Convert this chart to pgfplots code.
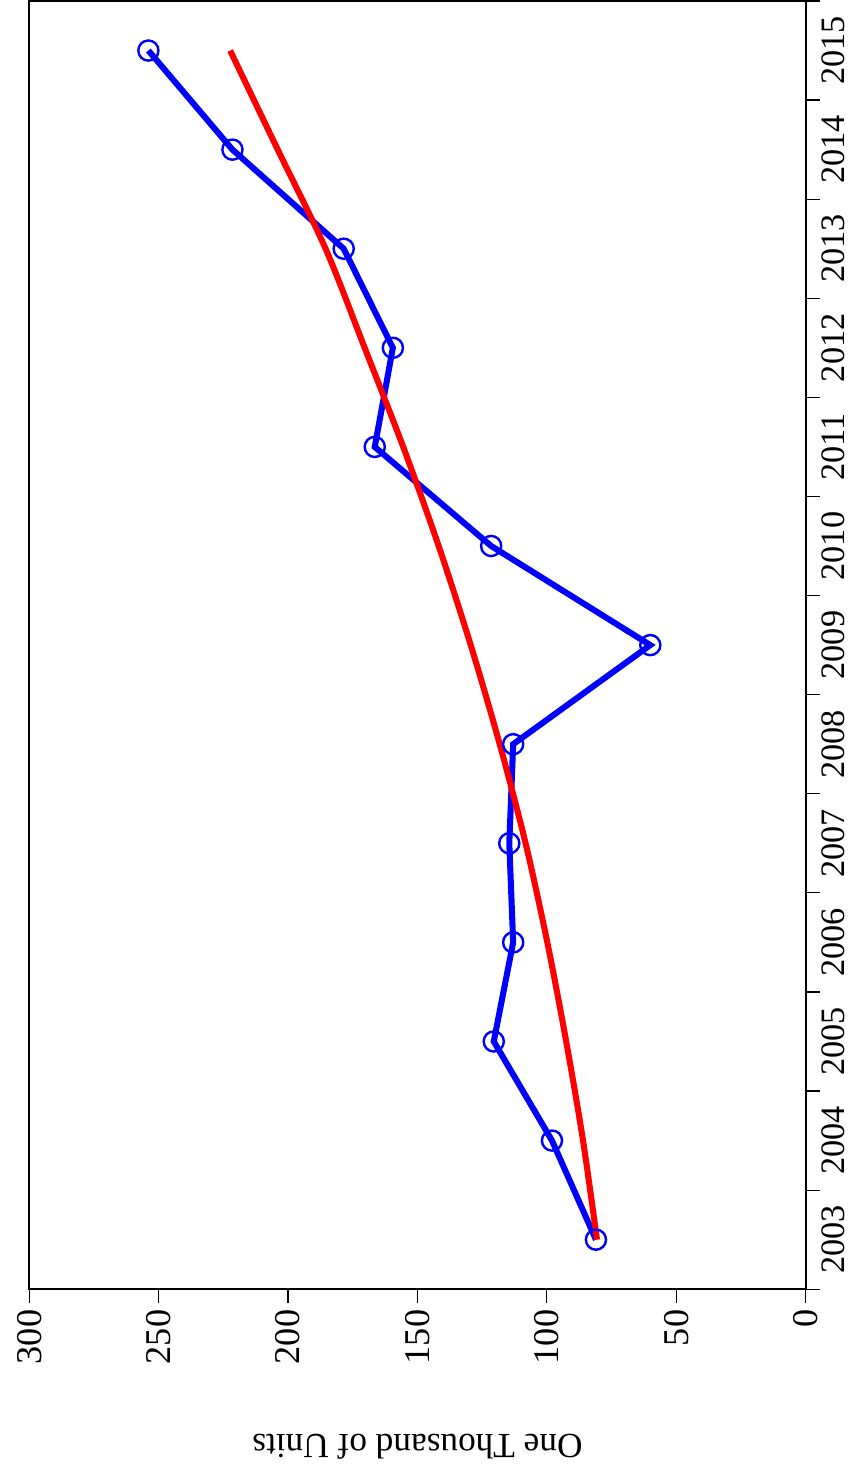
\documentclass[border=0pt]{standalone}
\usepackage{fontspec}
\setmainfont{Liberation Serif}
\usepackage{pgfplots}
\pgfplotsset{compat=1.18}
\begin{document}
\begin{tikzpicture}
\begin{axis}[
  scale only axis, width=385pt, height=639pt,
  x dir=reverse, xmin=0, xmax=300, ymin=2002.5, ymax=2015.5,
  axis line style={line width=1pt},
  xtick={0,50,100,150,200,250,300},
  xticklabels={0,50,100,150,200,250,300},
  xtick pos=bottom,
  ytick={2003,2004,2005,2006,2007,2008,2009,2010,2011,2012,2013,2014,2015},
  yticklabels={2003,2004,2005,2006,2007,2008,2009,2010,2011,2012,2013,2014,2015},
  minor ytick={2002.5,2003.5,2004.5,2005.5,2006.5,2007.5,2008.5,2009.5,2010.5,2011.5,2012.5,2013.5,2014.5,2015.5},
  ytick pos=right,
  tick align=outside,
  major tick length=7pt, minor tick length=7pt,
  major y tick style={draw=none},
  tick style={line width=0.6pt, black},
  xticklabel style={rotate=90, anchor=east, inner xsep=3pt, inner ysep=8.5pt, font=\fontsize{18}{20}\selectfont},
  yticklabel style={rotate=90, anchor=north, inner sep=1pt, font=\fontsize{17}{19}\selectfont},
  xlabel={One Thousand of Units},
  xlabel style={at={(axis description cs:0.5,-0.108)}, rotate=180, anchor=south, inner sep=2.5pt, font=\fontsize{17.5}{19}\selectfont},
]
\addplot[blue, line width=3pt, mark=o, mark size=5pt, mark options={line width=1.2pt}] coordinates {
(81,2003)(98,2004)(120.5,2005)(113,2006)(114.5,2007)(113,2008)(60,2009)(121.5,2010)(166.5,2011)(159.5,2012)(178.5,2013)(221.5,2014)(254,2015)};
\addplot[red, line width=3pt, smooth] coordinates {
(80.6,2003)(86.0,2004)(92.5,2005)(99.8,2006)(108.2,2007)(118.2,2008)(129.4,2009)(141.8,2010)(155.5,2011)(170.4,2012)(185.5,2013)(204,2014)(222.4,2015)};
\end{axis}
\end{tikzpicture}
\end{document}
